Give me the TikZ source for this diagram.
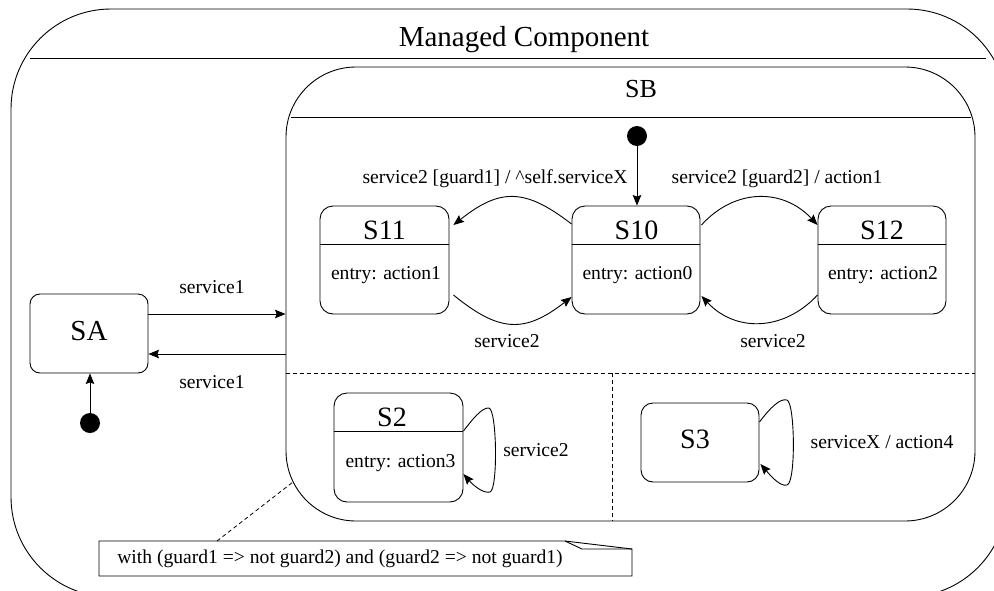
\documentclass[tikz,border=0pt]{standalone}
\usepackage{fontspec}
\setmainfont{Liberation Serif}
\usetikzlibrary{arrows.meta,calc}

\begin{document}
\begin{tikzpicture}[x=1pt,y=-1pt,line width=0.9pt,
  lbl/.style={font=\fontsize{19.6}{23}\selectfont,anchor=base,inner sep=0pt},
  big/.style={font=\fontsize{28}{32}\selectfont,anchor=base,inner sep=0pt},
  stbox/.style={draw,rounded corners=13pt,inner sep=0pt},
  arr/.style={-{Stealth[length=10.5pt,width=8.5pt,inset=1.5pt]}},
  initdot/.style={circle,fill=black,minimum size=20pt,inner sep=0pt},
  sepdash/.style={dash pattern=on 4pt off 3pt}]

\useasboundingbox (0,0) rectangle (994,590);
\clip (0,0) rectangle (994,590);

% outer component frame
\node[draw,rounded corners=100pt,minimum width=996pt,minimum height=588pt,inner sep=0pt] (frame) at (509,303) {};
\node[font=\fontsize{29}{34}\selectfont,anchor=base,inner sep=0pt] (ftitle) at (524,46) {Managed Component};
\draw (30,58) -- (986,58);

% composite state SB with its two dashed region borders
\node[draw,rounded corners=70pt,minimum width=689pt,minimum height=454pt,inner sep=0pt] (sb) at (630.5,294) {};
\node[font=\fontsize{26}{30}\selectfont,anchor=base,inner sep=0pt] (sbtitle) at (641,97) {SB};
\draw (291,117) -- (971,117);
\draw[sepdash] (sb.west |- 0,373) -- (sb.east |- 0,373);
\draw[sepdash] (612,373) -- (sb.south -| 612,0);

% SA
\node[stbox,rounded corners=10pt,minimum width=118pt,minimum height=79pt] (sa) at (89,333.5) {};
\node[big,font=\fontsize{29}{33}\selectfont] at (89,340) {SA};

% S11, S10, S12
\node[stbox,minimum width=129pt,minimum height=108pt] (s11) at (384.5,260) {};
\draw (s11.west |- 0,244) -- (s11.east |- 0,244);
\node[big] at (384.5,239) {S11};
\node[lbl] at (386,279) {entry: action1};

\node[stbox,minimum width=128pt,minimum height=108pt] (s10) at (636,260) {};
\draw (s10.west |- 0,244) -- (s10.east |- 0,244);
\node[big] at (636.5,239) {S10};
\node[lbl] at (637.5,279) {entry: action0};

\node[stbox,minimum width=128pt,minimum height=108pt] (s12) at (882,260) {};
\draw (s12.west |- 0,244) -- (s12.east |- 0,244);
\node[big] at (882,239) {S12};
\node[lbl] at (883,279) {entry: action2};

% S2, S3
\node[stbox,minimum width=129pt,minimum height=109pt] (s2) at (398.5,447.5) {};
\draw (s2.west |- 0,431) -- (s2.east |- 0,431);
\node[big] at (392,426) {S2};
\node[lbl] at (400.5,467) {entry: action3};

\node[stbox,rounded corners=12pt,minimum width=118pt,minimum height=79pt] (s3) at (700,442.5) {};
\node[big] at (695,448) {S3};

% initial pseudostates
\node[initdot] (ia) at (90,423) {};
\node[initdot] (ib) at (637,136) {};
\draw[arr] (ia) -- (ia |- sa.south);
\draw[arr] (ib) -- (ib |- s10.north);

% SA <-> SB
\draw[arr] ([yshift=19.5pt]sa.east) -- ([yshift=19.5pt]sa.east -| sb.west);
\node[lbl] at (212,293) {service1};
\draw[arr] ([yshift=-20.5pt]sa.east -| sb.west) -- ([yshift=-20.5pt]sa.east);
\node[lbl] at (212,388) {service1};

% transitions inside the first region
\draw[arr] ([yshift=36pt]s10.west) .. controls (525,188) and (500,188) .. ([xshift=4pt,yshift=35pt]s11.east);
\node[lbl] at (495,183) {service2 [guard1] / \^{}self.serviceX};
\draw[arr] ([xshift=4pt,yshift=-35pt]s11.east) .. controls (500,333) and (525,333) .. ([yshift=-37pt]s10.west);
\node[lbl] at (507,347) {service2};

\draw[arr] ([xshift=1pt,yshift=35pt]s10.east) .. controls (735,188) and (783,188) .. ([yshift=35pt]s12.west);
\node[lbl] at (777,183) {service2 [guard2] / action1};
\draw[arr] ([yshift=-35pt]s12.west) .. controls (783,332) and (735,332) .. ([xshift=1pt,yshift=-36pt]s10.east);
\node[lbl] at (773,347) {service2};

% self transitions
\draw[arr] ([yshift=16.5pt]s2.east) .. controls (472,420) and (482,407) .. (489,408)
  .. controls (497,410) and (498,490) .. (490,492)
  .. controls (483,494) and (472,484) .. ([yshift=-26.5pt]s2.east);
\node[lbl] at (536,456) {service2};

\draw[arr] ([yshift=20.5pt]s3.east) .. controls (770,408) and (780,398) .. (787,400)
  .. controls (795,403) and (796,483) .. (787,485)
  .. controls (780,487) and (770,475) .. ([xshift=1pt,yshift=-21.5pt]s3.east);
\node[lbl] at (882,448) {serviceX / action4};

% constraint note with folded corner
\node[lbl] (notetext) at (340,563) {with (guard1 => not guard2) and (guard2 => not guard1)};
\draw (99,541) -- (565,541) -- (632,549) -- (632,576) -- (99,576) -- cycle;
\draw (565,541) -- (582,549) -- (632,549);
\coordinate (notetop) at (217,541);
\coordinate (sbcorner) at (293,482);
\draw[sepdash,line width=0.8pt] (notetop) -- (sbcorner);

\end{tikzpicture}
\end{document}
